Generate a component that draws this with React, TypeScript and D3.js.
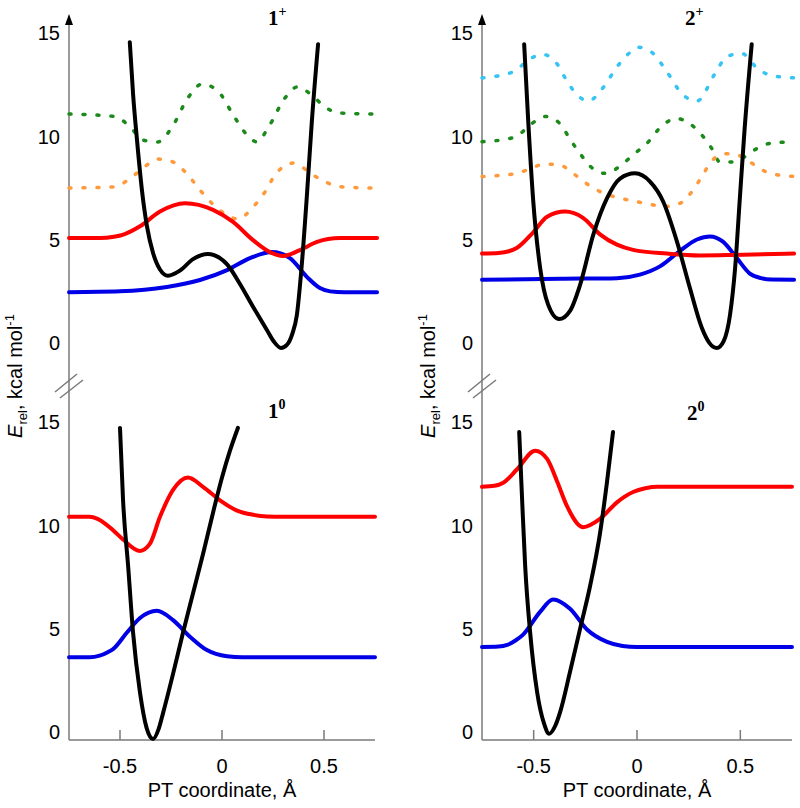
import React from "react";
import * as d3 from "d3";

type Pt = [number, number];

const xTicks = [-0.5, 0, 0.5];
const yTicks = [0, 5, 10, 15];

// 1+ (top left)
const pos1Black: Pt[] = [[-0.452, 14.8], [-0.436, 12.3], [-0.417, 10.1], [-0.392, 7.6], [-0.368, 5.9], [-0.338, 4.6], [-0.304, 3.8], [-0.265, 3.5], [-0.206, 3.75], [-0.142, 4.3], [-0.069, 4.55], [-0.01, 4.35], [0.025, 4.05], [0.088, 3.1], [0.152, 2.0], [0.22, 0.87], [0.255, 0.3], [0.289, 0.0], [0.318, 0.15], [0.345, 0.7], [0.367, 1.6], [0.39, 3.9], [0.417, 7.5], [0.44, 10.9], [0.471, 14.7]];
const pos1Red: Pt[] = [[-0.75, 5.32], [-0.6, 5.32], [-0.53, 5.38], [-0.48, 5.5], [-0.4, 5.9], [-0.304, 6.6], [-0.181, 7.0], [-0.044, 6.68], [0.054, 6.1], [0.152, 5.22], [0.235, 4.64], [0.299, 4.45], [0.382, 4.74], [0.466, 5.13], [0.52, 5.27], [0.58, 5.32], [0.76, 5.32]];
const pos1Blue: Pt[] = [[-0.75, 2.7], [-0.5, 2.74], [-0.27, 2.95], [-0.108, 3.29], [0.025, 3.77], [0.137, 4.35], [0.245, 4.64], [0.333, 4.35], [0.417, 3.43], [0.48, 2.9], [0.53, 2.74], [0.6, 2.7], [0.76, 2.7]];
const pos1Green: Pt[] = [[-0.75, 11.32], [-0.525, 11.2], [-0.451, 10.7], [-0.387, 10.06], [-0.314, 9.97], [-0.245, 10.69], [-0.167, 12.1], [-0.098, 12.77], [-0.025, 12.48], [0.064, 11.13], [0.123, 10.3], [0.172, 9.97], [0.225, 10.64], [0.309, 12.1], [0.368, 12.63], [0.44, 12.24], [0.505, 11.66], [0.578, 11.37], [0.76, 11.32]];
const pos1Orange: Pt[] = [[-0.75, 7.74], [-0.534, 7.79], [-0.46, 8.13], [-0.387, 8.71], [-0.314, 9.14], [-0.24, 9.0], [-0.167, 8.37], [-0.108, 7.64], [-0.05, 7.01], [0.025, 6.43], [0.078, 6.24], [0.152, 6.82], [0.211, 7.55], [0.26, 8.37], [0.348, 8.95], [0.446, 8.37], [0.52, 7.98], [0.593, 7.79], [0.76, 7.74]];

// 2+ (top right)
const pos2Black: Pt[] = [[-0.546, 14.7], [-0.527, 11.1], [-0.502, 7.1], [-0.469, 3.9], [-0.43, 2.1], [-0.377, 1.4], [-0.324, 1.8], [-0.275, 3.07], [-0.211, 5.5], [-0.145, 7.25], [-0.082, 8.2], [-0.01, 8.45], [0.063, 8.05], [0.126, 7.1], [0.193, 5.16], [0.256, 2.9], [0.314, 0.97], [0.35, 0.25], [0.386, 0.0], [0.42, 0.35], [0.45, 1.6], [0.475, 3.9], [0.498, 7.3], [0.52, 10.5], [0.555, 14.7]];
const pos2Red: Pt[] = [[-0.75, 4.57], [-0.67, 4.6], [-0.62, 4.68], [-0.58, 4.85], [-0.502, 5.6], [-0.435, 6.35], [-0.348, 6.6], [-0.261, 6.3], [-0.179, 5.5], [-0.097, 5.0], [-0.019, 4.75], [0.145, 4.57], [0.304, 4.48], [0.464, 4.5], [0.76, 4.57]];
const pos2Blue: Pt[] = [[-0.75, 3.3], [-0.37, 3.35], [-0.097, 3.38], [0.014, 3.55], [0.111, 3.95], [0.208, 4.7], [0.29, 5.25], [0.353, 5.4], [0.416, 5.15], [0.483, 4.35], [0.546, 3.6], [0.6, 3.38], [0.65, 3.31], [0.76, 3.3]];
const pos2Cyan: Pt[] = [[-0.75, 13.07], [-0.599, 13.36], [-0.517, 14.0], [-0.454, 14.2], [-0.387, 13.75], [-0.338, 12.9], [-0.29, 12.25], [-0.236, 11.95], [-0.164, 12.6], [-0.097, 13.6], [-0.034, 14.3], [0.005, 14.55], [0.072, 14.3], [0.145, 13.36], [0.222, 12.25], [0.29, 11.95], [0.377, 13.27], [0.435, 14.1], [0.507, 14.25], [0.585, 13.5], [0.657, 13.17], [0.76, 13.07]];
const pos2Green: Pt[] = [[-0.75, 9.98], [-0.59, 10.2], [-0.517, 10.8], [-0.444, 11.2], [-0.372, 10.85], [-0.324, 10.1], [-0.275, 9.4], [-0.227, 8.8], [-0.155, 8.45], [-0.082, 8.8], [-0.019, 9.35], [0.048, 9.9], [0.126, 10.8], [0.193, 11.1], [0.256, 10.85], [0.314, 10.3], [0.362, 9.65], [0.401, 9.0], [0.464, 9.0], [0.512, 9.2], [0.58, 9.65], [0.643, 9.9], [0.76, 9.98]];
const pos2Orange: Pt[] = [[-0.75, 8.3], [-0.58, 8.45], [-0.502, 8.75], [-0.444, 8.9], [-0.372, 8.85], [-0.309, 8.45], [-0.236, 7.9], [-0.164, 7.5], [-0.082, 7.25], [-0.01, 7.1], [0.063, 6.95], [0.135, 6.85], [0.208, 7.0], [0.266, 7.57], [0.314, 8.3], [0.362, 9.05], [0.425, 9.4], [0.498, 9.3], [0.57, 8.85], [0.643, 8.45], [0.76, 8.3]];

// 1^0 (bottom left)
const neu1Black: Pt[] = [[-0.5, 15.1], [-0.485, 11.6], [-0.46, 8.4], [-0.436, 5.2], [-0.402, 2.3], [-0.37, 0.6], [-0.338, 0.05], [-0.31, 0.55], [-0.289, 1.3], [-0.24, 3.2], [-0.191, 5.2], [-0.142, 7.1], [-0.093, 9.0], [-0.044, 11.0], [0.0, 12.7], [0.039, 14.0], [0.078, 15.1]];
const neu1Red: Pt[] = [[-0.75, 10.8], [-0.65, 10.8], [-0.61, 10.7], [-0.57, 10.45], [-0.534, 10.15], [-0.485, 9.7], [-0.402, 9.15], [-0.353, 9.5], [-0.304, 10.8], [-0.24, 12.1], [-0.167, 12.7], [-0.093, 12.25], [-0.01, 11.6], [0.074, 11.1], [0.152, 10.9], [0.22, 10.82], [0.3, 10.8], [0.75, 10.8]];
const neu1Blue: Pt[] = [[-0.75, 4.0], [-0.65, 4.0], [-0.6, 4.08], [-0.56, 4.25], [-0.534, 4.4], [-0.466, 5.2], [-0.402, 5.9], [-0.319, 6.25], [-0.24, 5.8], [-0.157, 5.0], [-0.074, 4.35], [0.025, 4.05], [0.1, 4.0], [0.75, 4.0]];

// 2^0 (bottom right)
const neu2Black: Pt[] = [[-0.57, 14.9], [-0.556, 11.65], [-0.541, 8.4], [-0.517, 5.2], [-0.483, 2.3], [-0.45, 0.8], [-0.425, 0.3], [-0.395, 0.7], [-0.372, 1.35], [-0.324, 3.3], [-0.275, 5.4], [-0.227, 7.45], [-0.179, 10.0], [-0.145, 12.5], [-0.116, 14.9]];
const neu2Red: Pt[] = [[-0.75, 12.25], [-0.69, 12.3], [-0.647, 12.45], [-0.58, 13.1], [-0.493, 14.0], [-0.435, 13.6], [-0.386, 12.5], [-0.338, 11.3], [-0.261, 10.3], [-0.179, 10.7], [-0.097, 11.5], [-0.019, 12.0], [0.04, 12.18], [0.1, 12.25], [0.75, 12.25]];
const neu2Blue: Pt[] = [[-0.75, 4.5], [-0.67, 4.52], [-0.628, 4.6], [-0.59, 4.8], [-0.551, 5.1], [-0.469, 6.2], [-0.406, 6.8], [-0.324, 6.35], [-0.242, 5.35], [-0.145, 4.75], [-0.07, 4.55], [0.0, 4.5], [0.75, 4.5]];

const BLACK = "#000000";
const RED = "#ff0000";
const BLUE = "#0000e6";
const GREEN = "#1b8a1b";
const ORANGE = "#ff9a3c";
const CYAN = "#35c4f4";
const AXIS = "#7a7a7a";
const SANS = "'Liberation Sans', Arial, sans-serif";
const SERIF = "'Liberation Serif', 'Times New Roman', serif";

const leftX = d3.scaleLinear().domain([-0.75, 0.75]).range([69, 375]);
const rightX = d3.scaleLinear().domain([-0.75, 0.75]).range([482, 792]);
const topY = d3.scaleLinear().domain([0, 15]).range([348, 38]);
const bottomY = d3.scaleLinear().domain([0, 15]).range([740, 430]);

type Series = { data: Pt[]; color: string; dotted?: boolean };

const panels = [
  {
    x: leftX, y: topY, label: "1", sup: "+", tx: 268, ty: 25, labelShift: -3,
    series: [
      { data: pos1Green, color: GREEN, dotted: true },
      { data: pos1Orange, color: ORANGE, dotted: true },
      { data: pos1Blue, color: BLUE },
      { data: pos1Red, color: RED },
      { data: pos1Black, color: BLACK },
    ] as Series[],
  },
  {
    x: rightX, y: topY, label: "2", sup: "+", tx: 685, ty: 25, labelShift: -3,
    series: [
      { data: pos2Cyan, color: CYAN, dotted: true },
      { data: pos2Green, color: GREEN, dotted: true },
      { data: pos2Orange, color: ORANGE, dotted: true },
      { data: pos2Blue, color: BLUE },
      { data: pos2Red, color: RED },
      { data: pos2Black, color: BLACK },
    ] as Series[],
  },
  {
    x: leftX, y: bottomY, label: "1", sup: "0", tx: 268, ty: 418, labelShift: -6,
    series: [
      { data: neu1Blue, color: BLUE },
      { data: neu1Red, color: RED },
      { data: neu1Black, color: BLACK },
    ] as Series[],
  },
  {
    x: rightX, y: bottomY, label: "2", sup: "0", tx: 687, ty: 420, labelShift: -6,
    series: [
      { data: neu2Blue, color: BLUE },
      { data: neu2Red, color: RED },
      { data: neu2Black, color: BLACK },
    ] as Series[],
  },
];

const Column = ({ x }: { x: d3.ScaleLinear<number, number> }) => {
  const ax = x(-0.75);
  const y0 = bottomY(0);
  return (
    <g>
      {/* vertical axis with arrow and break */}
      <line x1={ax} x2={ax} y1={22} y2={y0} stroke={AXIS} strokeWidth={1.5} />
      <polygon points={`${ax},14 ${ax - 4},25 ${ax + 4},25`} fill={BLACK} />
      <line x1={ax - 14} y1={392} x2={ax + 8} y2={374} stroke={AXIS} strokeWidth={1.5} />
      <line x1={ax - 9} y1={398} x2={ax + 14} y2={380} stroke={AXIS} strokeWidth={1.5} />
      <text
        transform={`translate(${ax - 47},376) rotate(-90)`}
        textAnchor="middle"
        fontFamily={SANS}
        fontSize={20}
        fill={BLACK}
      >
        <tspan fontStyle="italic">E</tspan>
        <tspan dy={5} fontSize={13}>rel</tspan>
        <tspan dy={-5}>, kcal mol</tspan>
        <tspan dy={-8} fontSize={13}>-1</tspan>
      </text>
      {/* bottom x axis */}
      <line x1={ax} x2={x(0.75)} y1={y0} y2={y0} stroke={AXIS} strokeWidth={1.5} />
      {xTicks.map((t) => (
        <g key={t}>
          <line x1={x(t)} x2={x(t)} y1={y0} y2={y0 - 10} stroke={AXIS} strokeWidth={1.5} />
          <text x={x(t)} y={y0 + 28} textAnchor="middle" dominantBaseline="middle" fontFamily={SANS} fontSize={20} fill={BLACK}>
            {t}
          </text>
        </g>
      ))}
      <text x={x(0)} y={y0 + 52} textAnchor="middle" dominantBaseline="middle" fontFamily={SANS} fontSize={20} fill={BLACK}>
        PT coordinate, Å
      </text>
    </g>
  );
};

const App = () => {
  return (
    <svg
      width={800}
      height={808}
      style={{ position: "absolute", left: 0, top: 0, background: "#fff" }}
    >
      <rect width={800} height={808} fill="#fff" />
      <Column x={leftX} />
      <Column x={rightX} />
      {panels.map((p, i) => {
        const line = d3
          .line<Pt>()
          .x((d) => p.x(d[0]))
          .y((d) => p.y(d[1]))
          .curve(d3.curveMonotoneX);
        const ax = p.x(-0.75);
        return (
          <g key={i}>
            {yTicks.map((t) => (
              <text
                key={t}
                x={ax - 9}
                y={p.y(t) + p.labelShift}
                textAnchor="end"
                dominantBaseline="middle"
                fontFamily={SANS}
                fontSize={20}
                fill={BLACK}
              >
                {t}
              </text>
            ))}
            {p.series.map((s, j) => (
              <path
                key={j}
                d={line(s.data) || ""}
                fill="none"
                stroke={s.color}
                strokeWidth={s.dotted ? 3.5 : 4}
                strokeDasharray={s.dotted ? "2,12" : undefined}
                strokeLinecap="round"
                strokeLinejoin="round"
              />
            ))}
            <text x={p.tx} y={p.ty} fontFamily={SERIF} fontWeight="bold" fontSize={21} fill={BLACK}>
              {p.label}
              <tspan dy={-9} fontSize={14}>{p.sup}</tspan>
            </text>
          </g>
        );
      })}
    </svg>
  );
};

export default App;
